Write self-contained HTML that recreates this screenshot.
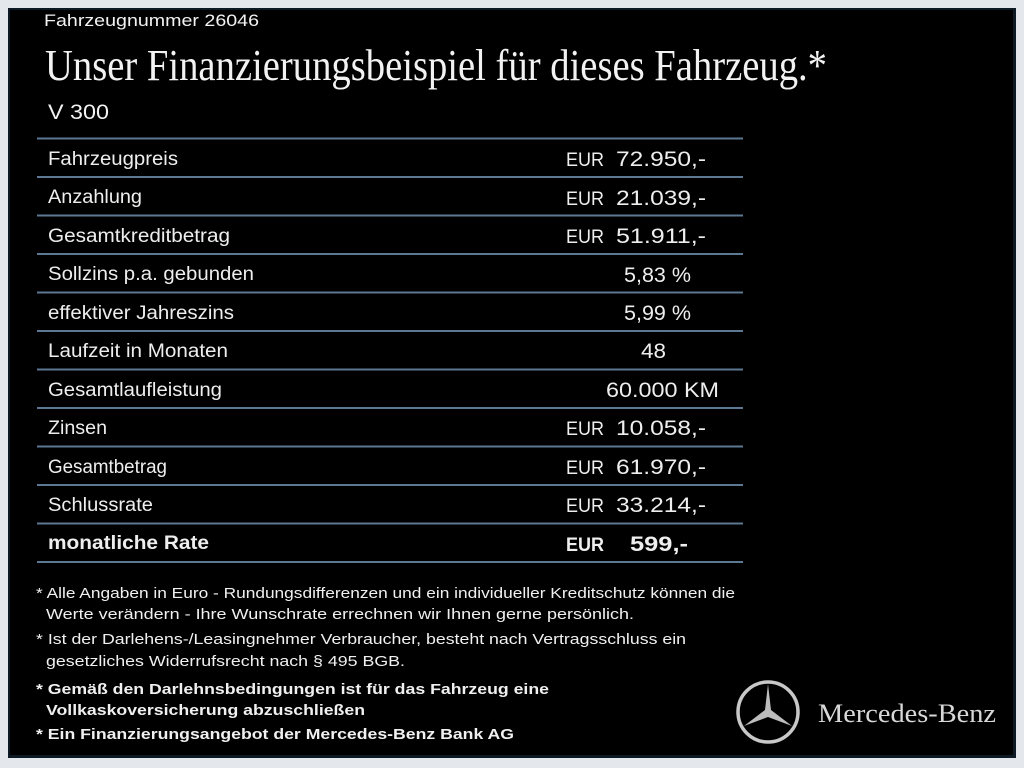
<!DOCTYPE html>
<html><head><meta charset="utf-8"><style>
html,body{margin:0;padding:0;background:#e6eaee;}
svg{display:block}
</style></head><body>
<svg width="1024" height="768" viewBox="0 0 1024 768" xmlns="http://www.w3.org/2000/svg">
<rect width="1024" height="768" fill="#e4e8ec"/>
<rect x="8" y="8" width="1008" height="750" fill="#0d1a26"/>
<rect x="10" y="10" width="1003" height="745" fill="#000"/>
<g font-family="Liberation Sans, sans-serif" fill="#f2f2f2">
<text x="44" y="26" font-size="17" textLength="215" lengthAdjust="spacingAndGlyphs">Fahrzeugnummer  26046</text>
<text x="45" y="80" font-family="Liberation Serif, serif" font-size="44" textLength="782" lengthAdjust="spacingAndGlyphs">Unser Finanzierungsbeispiel für dieses Fahrzeug.*</text>
<text x="48" y="119" font-size="21" textLength="61" lengthAdjust="spacingAndGlyphs">V 300</text>
</g>
<g stroke="#5d7892" stroke-width="2">
<line x1="37" x2="743" y1="138.5" y2="138.5"/>
<line x1="37" x2="743" y1="177" y2="177"/>
<line x1="37" x2="743" y1="215.5" y2="215.5"/>
<line x1="37" x2="743" y1="254" y2="254"/>
<line x1="37" x2="743" y1="292.5" y2="292.5"/>
<line x1="37" x2="743" y1="331" y2="331"/>
<line x1="37" x2="743" y1="369.5" y2="369.5"/>
<line x1="37" x2="743" y1="408" y2="408"/>
<line x1="37" x2="743" y1="446.5" y2="446.5"/>
<line x1="37" x2="743" y1="485" y2="485"/>
<line x1="37" x2="743" y1="523.5" y2="523.5"/>
<line x1="37" x2="743" y1="562" y2="562"/>
</g>
<g font-family="Liberation Sans, sans-serif" fill="#eeeeee" font-size="19">
<text x="48" y="165" textLength="130" lengthAdjust="spacingAndGlyphs">Fahrzeugpreis</text>
<text x="48" y="203" textLength="94" lengthAdjust="spacingAndGlyphs">Anzahlung</text>
<text x="48" y="242" textLength="182" lengthAdjust="spacingAndGlyphs">Gesamtkreditbetrag</text>
<text x="48" y="280" textLength="206" lengthAdjust="spacingAndGlyphs">Sollzins p.a. gebunden</text>
<text x="48" y="319" textLength="186" lengthAdjust="spacingAndGlyphs">effektiver Jahreszins</text>
<text x="48" y="357" textLength="180" lengthAdjust="spacingAndGlyphs">Laufzeit in Monaten</text>
<text x="48" y="396" textLength="174" lengthAdjust="spacingAndGlyphs">Gesamtlaufleistung</text>
<text x="48" y="434" textLength="59" lengthAdjust="spacingAndGlyphs">Zinsen</text>
<text x="48" y="473" textLength="119" lengthAdjust="spacingAndGlyphs">Gesamtbetrag</text>
<text x="48" y="511" textLength="105" lengthAdjust="spacingAndGlyphs">Schlussrate</text>
<text x="48" y="549" font-weight="bold" textLength="161" lengthAdjust="spacingAndGlyphs">monatliche Rate</text>

<text x="566" y="166" textLength="38" lengthAdjust="spacingAndGlyphs">EUR</text>
<text x="616" y="166" font-size="21" textLength="90" lengthAdjust="spacingAndGlyphs">72.950,-</text>
<text x="566" y="205" textLength="38" lengthAdjust="spacingAndGlyphs">EUR</text>
<text x="616" y="205" font-size="21" textLength="90" lengthAdjust="spacingAndGlyphs">21.039,-</text>
<text x="566" y="243" textLength="38" lengthAdjust="spacingAndGlyphs">EUR</text>
<text x="616" y="243" font-size="21" textLength="90" lengthAdjust="spacingAndGlyphs">51.911,-</text>
<text x="624" y="282" font-size="21" textLength="67" lengthAdjust="spacingAndGlyphs">5,83 %</text>
<text x="624" y="320" font-size="21" textLength="67" lengthAdjust="spacingAndGlyphs">5,99 %</text>
<text x="641" y="358" font-size="21" textLength="25" lengthAdjust="spacingAndGlyphs">48</text>
<text x="606" y="397" font-size="21" textLength="113" lengthAdjust="spacingAndGlyphs">60.000 KM</text>
<text x="566" y="435" textLength="38" lengthAdjust="spacingAndGlyphs">EUR</text>
<text x="616" y="435" font-size="21" textLength="90" lengthAdjust="spacingAndGlyphs">10.058,-</text>
<text x="566" y="474" textLength="38" lengthAdjust="spacingAndGlyphs">EUR</text>
<text x="616" y="474" font-size="21" textLength="90" lengthAdjust="spacingAndGlyphs">61.970,-</text>
<text x="566" y="512" textLength="38" lengthAdjust="spacingAndGlyphs">EUR</text>
<text x="616" y="512" font-size="21" textLength="90" lengthAdjust="spacingAndGlyphs">33.214,-</text>
<text x="566" y="551" font-weight="bold" textLength="38" lengthAdjust="spacingAndGlyphs">EUR</text>
<text x="630" y="551" font-size="21" font-weight="bold" textLength="58" lengthAdjust="spacingAndGlyphs">599,-</text>
</g>
<g font-family="Liberation Sans, sans-serif" fill="#f0f0f0" font-size="14.5">
<text x="36" y="598" textLength="699" lengthAdjust="spacingAndGlyphs">* Alle Angaben in Euro - Rundungsdifferenzen und ein individueller Kreditschutz können die</text>
<text x="46" y="619" textLength="588" lengthAdjust="spacingAndGlyphs">Werte verändern - Ihre Wunschrate errechnen wir Ihnen gerne persönlich.</text>
<text x="36" y="644" textLength="650" lengthAdjust="spacingAndGlyphs">* Ist der Darlehens-/Leasingnehmer Verbraucher, besteht nach Vertragsschluss ein</text>
<text x="46" y="666" textLength="359" lengthAdjust="spacingAndGlyphs">gesetzliches  Widerrufsrecht nach § 495 BGB.</text>
<text x="36" y="694" font-weight="bold" textLength="513" lengthAdjust="spacingAndGlyphs">* Gemäß den Darlehnsbedingungen ist für das Fahrzeug eine</text>
<text x="46" y="715" font-weight="bold" textLength="319" lengthAdjust="spacingAndGlyphs">Vollkaskoversicherung abzuschließen</text>
<text x="36" y="739" font-weight="bold" textLength="478" lengthAdjust="spacingAndGlyphs">* Ein Finanzierungsangebot der Mercedes-Benz Bank AG</text>
</g>
<g transform="translate(768,712)">
<circle r="30" fill="none" stroke="#c8c8c8" stroke-width="3.5"/>
<polygon points="0,-28 3,-2 24,14 0,5 -24,14 -3,-2" fill="#bdbdbd"/>
</g>
<text x="818" y="722" font-family="Liberation Serif, serif" font-size="26" fill="#d8d8d8" textLength="178" lengthAdjust="spacingAndGlyphs">Mercedes-Benz</text>
</svg>
</body></html>
